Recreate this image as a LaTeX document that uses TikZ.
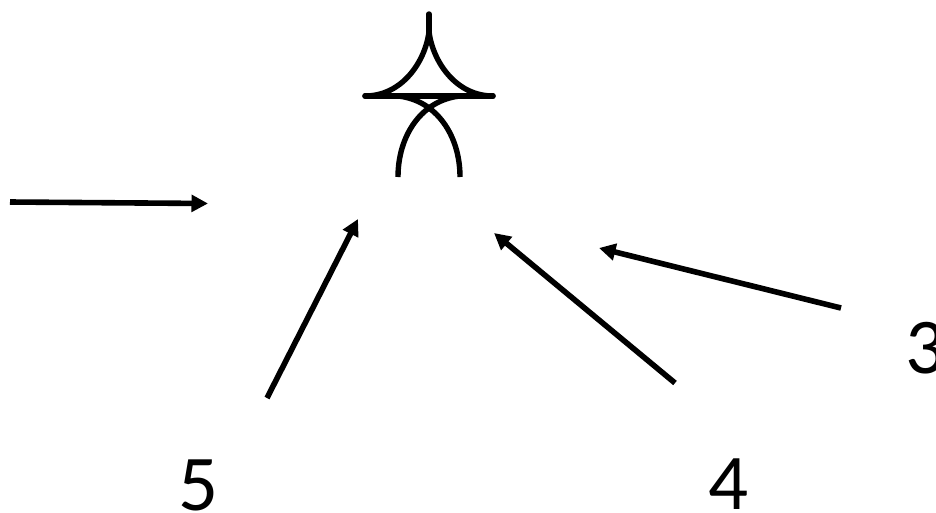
\documentclass[tikz,border=0pt]{standalone}
\usepackage{fontspec}
\setmainfont{Carlito}
\usetikzlibrary{arrows.meta}
\tikzset{
  conn/.style={line width=5.6pt,-{Triangle[length=16.5pt,width=16.5pt]}},
  glyph/.style={line width=5.4pt,line cap=round},
  lab/.style={font=\fontsize{79}{79}\selectfont,inner sep=0pt,anchor=base}
}
\begin{document}
\begin{tikzpicture}[x=1pt,y=-1pt]
\useasboundingbox (0,0) rectangle (936,512);
% symbol
\coordinate (top) at (429,14);
\coordinate (neck) at (429,32);
\coordinate (hl) at (365,96);
\coordinate (hr) at (493,96);
\coordinate (al) at (398,177);
\coordinate (ar) at (460,177);
\draw[glyph] (top) -- (neck);
\draw[glyph] (neck) .. controls (425,62) and (402,96) .. (hl);
\draw[glyph] (neck) .. controls (433,62) and (456,96) .. (hr);
\draw[glyph] (hl) -- (hr);
\draw[glyph,line cap=butt] (al) .. controls (398,135) and (422,100) .. (460,96);
\draw[glyph,line cap=butt] (ar) .. controls (460,135) and (436,100) .. (398,96);
% labels
\node[lab] (n3) at (926,373.5) {3};
\node[lab] (n4) at (728.5,509.5) {4};
\node[lab] (n5) at (198.5,510) {5};
% arrows
\coordinate (a1) at (10,202);  \coordinate (b1) at (208,203.5);
\coordinate (a2) at (267,398); \coordinate (b2) at (358,219);
\coordinate (a3) at (675,383); \coordinate (b3) at (494,233);
\coordinate (a4) at (841,308); \coordinate (b4) at (599,248);
\draw[conn] (a1) -- (b1);
\draw[conn] (a2) -- (b2);
\draw[conn] (a3) -- (b3);
\draw[conn] (a4) -- (b4);
\end{tikzpicture}
\end{document}
